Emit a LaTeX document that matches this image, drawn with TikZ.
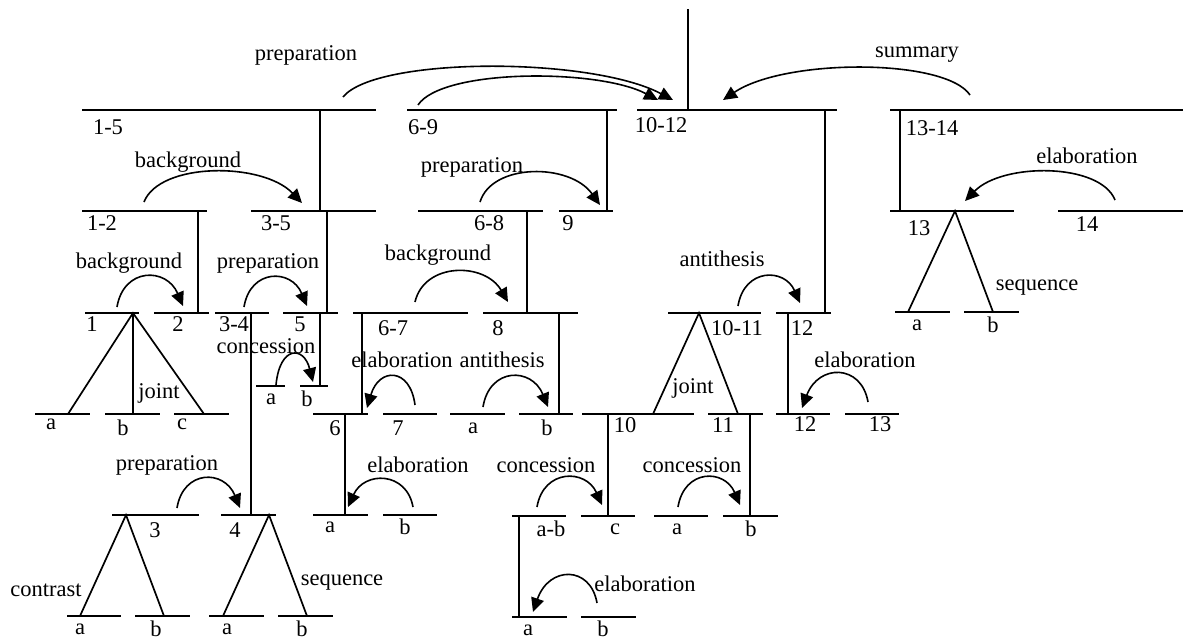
\documentclass[tikz,border=0pt]{standalone}
\usepackage{fontspec}
\setmainfont{Liberation Serif}
\usetikzlibrary{arrows.meta}
\tikzset{
  seg/.style={line width=1.7pt},
  rel/.style={line width=1.6pt,-{Triangle[length=14pt,width=13pt]}},
  lab/.style={inner sep=0pt,font=\fontsize{22.5}{25}\selectfont},
}
\newcommand\hseg[3]{\draw[seg] (#2,#1) -- (#3,#1);}
\newcommand\vseg[3]{\draw[seg] (#1,#2) -- (#1,#3);}
\newcommand\rstarc[5]{\draw[rel] (#1,#2) .. controls ({#1+0.1*(#3-#1)},{(#5-0.125*(#2+#4))/0.75}) and ({#1+0.75*(#3-#1)},{(#5-0.125*(#2+#4))/0.75}) .. (#3,#4);}
\begin{document}
\begin{tikzpicture}[x=1pt,y=-1pt]
\useasboundingbox[fill=white] (0,0) rectangle (1186,640);
% horizontal lines
\hseg{110}{82}{376}\hseg{110}{407}{617}\hseg{110}{637}{837}\hseg{110}{890}{1183}
\hseg{211}{82}{207}\hseg{211}{251}{376}\hseg{211}{418}{543}\hseg{211}{559}{613}\hseg{211}{890}{1014}\hseg{211}{1058}{1183}
\hseg{313}{85}{139}\hseg{313}{154}{209}\hseg{313}{215}{269}\hseg{313}{283}{338}\hseg{313}{353}{468}\hseg{313}{483}{578}\hseg{313}{668}{761}\hseg{313}{776}{831}\hseg{312}{895}{950}\hseg{312}{964}{1019}
\hseg{386}{256}{285}\hseg{386}{300}{328}
\hseg{414}{35}{90}\hseg{414}{105}{160}\hseg{414}{174}{229}\hseg{414}{313}{368}\hseg{414}{383}{437}\hseg{414}{450}{505}\hseg{414}{519}{573}\hseg{414}{582}{694}\hseg{414}{708}{763}\hseg{414}{776}{830}\hseg{414}{845}{899}
\hseg{515}{112}{199}\hseg{515}{221}{276}\hseg{515}{313}{368}\hseg{515}{383}{437}\hseg{516}{512}{566}\hseg{516}{581}{635}\hseg{516}{654}{708}\hseg{516}{723}{778}
\hseg{616}{67}{121}\hseg{616}{135}{190}\hseg{616}{209}{264}\hseg{616}{278}{333}\hseg{617}{512}{567}\hseg{617}{581}{636}
% vertical lines
\vseg{688}{9}{110}\vseg{320}{110}{211}\vseg{607}{110}{211}\vseg{825}{110}{313}\vseg{900}{110}{211}
\vseg{198}{211}{313}\vseg{327}{211}{313}\vseg{527}{211}{313}
\vseg{251}{313}{515}\vseg{320}{313}{386}\vseg{362}{313}{414}\vseg{559}{313}{414}\vseg{788}{313}{414}\vseg{133}{313}{414}
\vseg{345}{414}{515}\vseg{608}{414}{516}\vseg{750}{414}{516}\vseg{519}{516}{617}
% multinuclear triangles
\draw[seg] (68,414) -- (133,313) -- (204,414);
\draw[seg] (80,616) -- (126,515) -- (164,616);
\draw[seg] (223,616) -- (269,515) -- (307,616);
\draw[seg] (653,414) -- (699,313) -- (738,414);
\draw[seg] (908,312) -- (955,211) -- (993,312);
% relation arcs
\rstarc{343}{97}{673}{100}{67}
\rstarc{418}{105}{658}{100}{77}
\rstarc{970}{95}{723}{100}{68}
\rstarc{144}{202}{302}{203}{172}
\rstarc{480}{202}{600}{205}{173}
\rstarc{1115}{200}{965}{201}{172}
\rstarc{117}{307}{183}{306}{277}
\rstarc{244}{307}{307}{306}{278}
\rstarc{415}{302}{508}{302}{272}
\rstarc{738}{306}{800}{303}{277}
\rstarc{276}{385}{313}{382}{355}
\rstarc{415}{405}{367}{408}{377}
\rstarc{483}{407}{548}{407}{377}
\rstarc{868}{402}{802}{408}{374}
\rstarc{177}{508}{240}{508}{479}
\rstarc{413}{507}{348}{507}{480}
\rstarc{537}{507}{602}{505}{478}
\rstarc{678}{507}{740}{505}{478}
\rstarc{597}{603}{533}{612}{576}
% labels
\node[lab] (t1) at (306,55) {preparation};
\node[lab] (t2) at (917,55) {summary};
\node[lab] (t3) at (108,127) {1-5};
\node[lab] (t4) at (423,127) {6-9};
\node[lab] (t5) at (661,125) {10-12};
\node[lab] (t6) at (932,128) {13-14};
\node[lab] (t7) at (188,162) {background};
\node[lab] (t8) at (472,167) {preparation};
\node[lab] (t9) at (1087,156) {elaboration};
\node[lab] (t10) at (102,223) {1-2};
\node[lab] (t11) at (276,223) {3-5};
\node[lab] (t12) at (489,223) {6-8};
\node[lab] (t13) at (568,223) {9};
\node[lab] (t14) at (919,228) {13};
\node[lab] (t15) at (1087,224) {14};
\node[lab] (t16) at (129,263) {background};
\node[lab] (t17) at (268,263) {preparation};
\node[lab] (t18) at (438,255) {background};
\node[lab] (t19) at (722,259) {antithesis};
\node[lab] (t20) at (1037,287) {sequence};
\node[lab] (t21) at (92,324) {1};
\node[lab] (t22) at (178,324) {2};
\node[lab] (t23) at (234,324) {3-4};
\node[lab] (t24) at (300,324) {5};
\node[lab] (t25) at (393,328) {6-7};
\node[lab] (t26) at (498,328) {8};
\node[lab] (t27) at (737,328) {10-11};
\node[lab] (t28) at (802,328) {12};
\node[lab] (t29) at (917,325) {a};
\node[lab] (t30) at (993,325) {b};
\node[lab] (t31) at (266,346) {concession};
\node[lab] (t32) at (402,360) {elaboration};
\node[lab] (t33) at (502,360) {antithesis};
\node[lab] (t34) at (865,360) {elaboration};
\node[lab] (t35) at (159,393) {joint};
\node[lab] (t36) at (693,388) {joint};
\node[lab] (t37) at (271,399) {a};
\node[lab] (t38) at (307,399) {b};
\node[lab] (t39) at (51,424) {a};
\node[lab] (t40) at (123,428) {b};
\node[lab] (t41) at (182,424) {c};
\node[lab] (t42) at (335,428) {6};
\node[lab] (t43) at (398,428) {7};
\node[lab] (t44) at (473,428) {a};
\node[lab] (t45) at (547,428) {b};
\node[lab] (t46) at (625,425) {10};
\node[lab] (t47) at (723,425) {11};
\node[lab] (t48) at (805,424) {12};
\node[lab] (t49) at (880,424) {13};
\node[lab] (t50) at (167,465) {preparation};
\node[lab] (t51) at (418,465) {elaboration};
\node[lab] (t52) at (546,465) {concession};
\node[lab] (t53) at (692,465) {concession};
\node[lab] (t54) at (155,530) {3};
\node[lab] (t55) at (235,530) {4};
\node[lab] (t56) at (330,527) {a};
\node[lab] (t57) at (405,527) {b};
\node[lab] (t58) at (551,529) {a-b};
\node[lab] (t59) at (615,529) {c};
\node[lab] (t60) at (677,529) {a};
\node[lab] (t61) at (751,529) {b};
\node[lab] (t62) at (342,582) {sequence};
\node[lab] (t63) at (46,590) {contrast};
\node[lab] (t64) at (645,584) {elaboration};
\node[lab] (t65) at (80,629) {a};
\node[lab] (t66) at (156,629) {b};
\node[lab] (t67) at (227,629) {a};
\node[lab] (t68) at (302,629) {b};
\node[lab] (t69) at (528,630) {a};
\node[lab] (t70) at (603,629) {b};
\end{tikzpicture}
\end{document}
